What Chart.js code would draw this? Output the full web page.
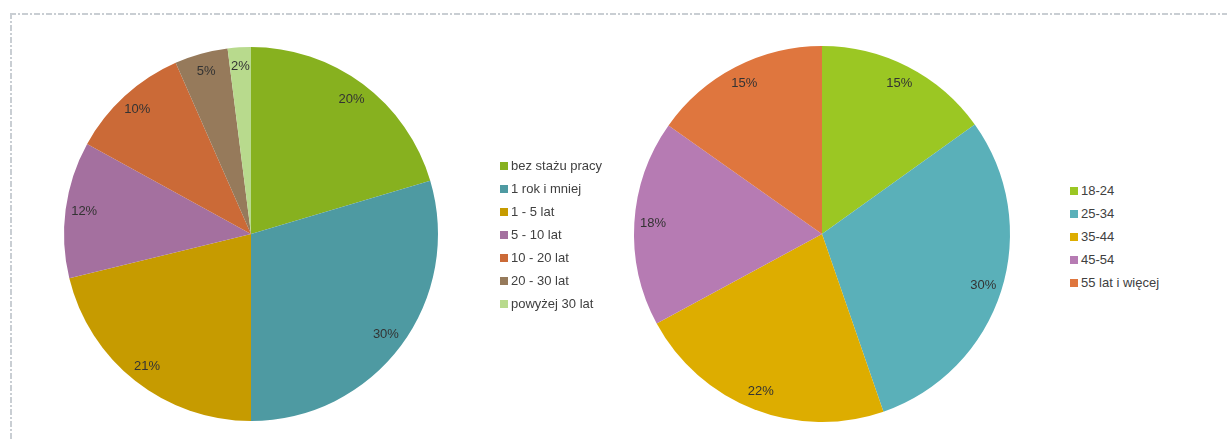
<!DOCTYPE html>
<html>
<head>
<meta charset="utf-8">
<script src="https://cdn.jsdelivr.net/npm/chart.js@4/dist/chart.umd.min.js"></script>
<style>
  html, body { margin: 0; padding: 0; background: #fff; }
  body { width: 1227px; height: 441px; position: relative; overflow: hidden; font-family: "Liberation Sans", Arial, sans-serif; }
  .frame-top { position: absolute; left: 10px; top: 13px; width: 1217px; height: 2px;
    background: repeating-linear-gradient(to right, #c9ced3 0 6px, transparent 6px 8px, #c9ced3 8px 10px, transparent 10px 12px); }
  .frame-left { position: absolute; left: 10px; top: 13px; width: 2px; height: 428px;
    background: repeating-linear-gradient(to bottom, #c9ced3 0 6px, transparent 6px 8px, #c9ced3 8px 10px, transparent 10px 12px); }
  .box { position: absolute; top: 0; height: 441px; }
  .legend { position: absolute; font-size: 13px; color: #404040; }
  .legend div { height: 23px; line-height: 23px; white-space: nowrap; }
  .legend span { display: inline-block; width: 8px; height: 8px; margin-right: 3px; vertical-align: 0px; }
</style>
</head>
<body>
<div class="frame-top"></div>
<div class="frame-left"></div>
<div class="box" style="left:0;width:500px"><canvas id="pie1"></canvas></div>
<div class="box" style="left:600px;width:460px"><canvas id="pie2"></canvas></div>
<div class="legend" id="leg1" style="left:500px;top:154px"></div>
<div class="legend" id="leg2" style="left:1070px;top:179px"></div>
<script>
const stazLabels = ['bez stażu pracy', '1 rok i mniej', '1 - 5 lat', '5 - 10 lat', '10 - 20 lat', '20 - 30 lat', 'powyżej 30 lat'];
const stazValues = [20.4, 29.6, 21.2, 11.8, 10.4, 4.6, 2.0];
const stazColors = ['#87b11f', '#4e9aa2', '#c69b00', '#a4709f', '#cb6a37', '#967a5b', '#b8da8d'];

const wiekLabels = ['18-24', '25-34', '35-44', '45-54', '55 lat i więcej'];
const wiekValues = [15.1, 29.6, 22.4, 17.7, 15.2];
const wiekColors = ['#9bc723', '#5ab0b9', '#ddad00', '#b67bb3', '#df763e'];

// percentage labels inside each slice
const pctLabels = {
  id: 'pctLabels',
  afterDatasetsDraw(chart) {
    const ctx = chart.ctx;
    const data = chart.data.datasets[0].data;
    const total = data.reduce((a, b) => a + b, 0);
    ctx.save();
    ctx.font = '13px "Liberation Sans", Arial, sans-serif';
    ctx.fillStyle = '#333';
    ctx.textAlign = 'center';
    ctx.textBaseline = 'middle';
    chart.getDatasetMeta(0).data.forEach((arc, i) => {
      const p = arc.getProps(['x', 'y', 'startAngle', 'endAngle', 'outerRadius'], true);
      const mid = (p.startAngle + p.endAngle) / 2;
      const r = p.outerRadius * 0.9;
      ctx.fillText(Math.round(data[i] / total * 100) + '%', p.x + Math.cos(mid) * r, p.y + Math.sin(mid) * r);
    });
    ctx.restore();
  }
};

function makePie(id, labels, values, colors, padding) {
  new Chart(document.getElementById(id), {
    type: 'pie',
    data: {
      labels: labels,
      datasets: [{ data: values, backgroundColor: colors, borderWidth: 0 }]
    },
    options: {
      responsive: true,
      maintainAspectRatio: false,
      animation: false,
      layout: { padding: padding },
      plugins: { legend: { display: false }, tooltip: { enabled: false } }
    },
    plugins: [pctLabels]
  });
}

function makeLegend(id, labels, colors) {
  const el = document.getElementById(id);
  labels.forEach((l, i) => {
    const row = document.createElement('div');
    const sw = document.createElement('span');
    sw.style.background = colors[i];
    row.appendChild(sw);
    row.appendChild(document.createTextNode(l));
    el.appendChild(row);
  });
}

makePie('pie1', stazLabels, stazValues, stazColors, { left: 64, right: 62, top: 47, bottom: 20 });
makePie('pie2', wiekLabels, wiekValues, wiekColors, { left: 34, right: 50, top: 46, bottom: 19 });
makeLegend('leg1', stazLabels, stazColors);
makeLegend('leg2', wiekLabels, wiekColors);
</script>
</body>
</html>
